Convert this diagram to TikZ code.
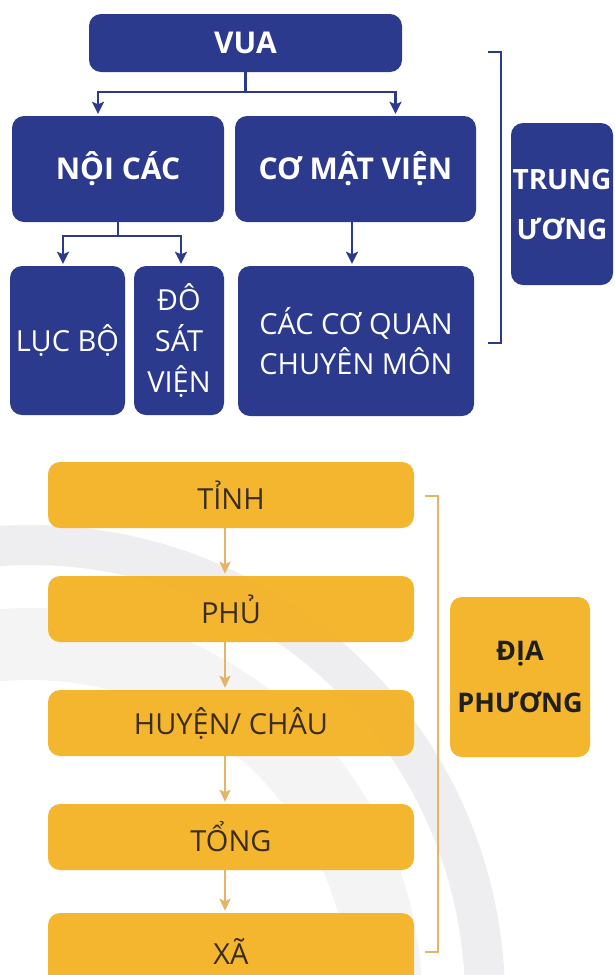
\documentclass[tikz,border=0pt]{standalone}
\usepackage{fontspec}
\setmainfont{Open Sans}
\usetikzlibrary{arrows.meta}
\definecolor{navy}{HTML}{2C3A8E}
\definecolor{gold}{HTML}{F4B223}
\definecolor{tanline}{HTML}{E6B466}
\definecolor{ink}{HTML}{3A2D1C}
\definecolor{ringA}{HTML}{EEEEF0}
\definecolor{ringB}{HTML}{F4F4F5}
\begin{document}
\begin{tikzpicture}[x=1pt,y=-1pt,
  bluebox/.style={fill=navy, rounded corners=12pt, text=white, align=center, inner sep=0pt},
  goldbox/.style={fill=gold, fill opacity=0.94, text opacity=1, rounded corners=12pt, text=ink, align=center, inner sep=0pt},
  bigbold/.style={font=\fontsize{30}{36}\selectfont\bfseries},
  plain/.style={font=\fontsize{29}{40}\selectfont},
  barrow/.style={draw=navy, line width=2.4pt, -{Stealth[length=12pt,width=12pt,inset=2.5pt]}},
  garrow/.style={draw=tanline, line width=2.4pt, -{Stealth[length=12pt,width=11pt,inset=2.5pt]}},
  bbracket/.style={draw=navy, line width=1.8pt},
  gbracket/.style={draw=tanline, line width=1.6pt},
]
\useasboundingbox (0,0) rectangle (614,975);
\begin{scope}
  \clip (0,0) rectangle (614,975);
  \fill[white] (0,0) rectangle (614,975);
  \fill[ringA, even odd rule] (30,1000) circle[radius=475pt] (30,1000) circle[radius=435pt];
  \fill[ringB, even odd rule] (30,1000) circle[radius=392pt] (30,1000) circle[radius=320pt];

  % ---- central level (blue) ----
  \node[bluebox, bigbold, minimum width=313pt, minimum height=58pt] (vua) at (245.5,43) {VUA};
  \node[bluebox, bigbold, minimum width=212pt, minimum height=106pt] (noi) at (118,169) {NỘI CÁC};
  \node[bluebox, bigbold, minimum width=241pt, minimum height=106pt] (cmv) at (355.5,169) {CƠ MẬT VIỆN};
  \node[bluebox, plain, minimum width=115pt, minimum height=149pt] (luc) at (67.5,340.5) {LỤC BỘ};
  \node[bluebox, plain, font=\fontsize{29}{41}\selectfont, minimum width=90pt, minimum height=149pt] (dsv) at (179,340.5) {ĐÔ\\SÁT\\VIỆN};
  \node[bluebox, plain, minimum width=236pt, minimum height=150pt] (cq) at (356,341) {CÁC CƠ QUAN\\CHUYÊN MÔN};
  \node[bluebox, font=\fontsize{28}{50}\selectfont\bfseries, minimum width=102pt, minimum height=162pt] (tw) at (562,204) {TRUNG\\ƯƠNG};

  \draw[barrow] (vua.south) -- (vua.south |- 0,92) -| ([xshift=-20pt,yshift=2pt]noi.north);
  \draw[barrow] (vua.south |- 0,92) -| ([xshift=40pt,yshift=2pt]cmv.north);
  \draw[barrow] (noi.south) -- (noi.south |- 0,236) -| ([xshift=-4.5pt,yshift=2pt]luc.north);
  \draw[barrow] (noi.south |- 0,236) -| ([xshift=2pt,yshift=2pt]dsv.north);
  \draw[barrow] ([xshift=-3.5pt]cmv.south) -- ([xshift=-4pt,yshift=2pt]cq.north);

  \coordinate (bt) at (488,52);
  \coordinate (bb) at (488,343);
  \draw[bbracket] (bt) -- (501,52) -- (501,343) -- (bb);

  % ---- local level (gold) ----
  \node[goldbox, plain, minimum width=366pt, minimum height=66pt] (tinh) at (231,495) {TỈNH};
  \node[goldbox, plain, minimum width=366pt, minimum height=66pt] (phu) at (231,609) {PHỦ};
  \node[goldbox, plain, minimum width=366pt, minimum height=66pt] (huyen) at (231,723) {HUYỆN/ CHÂU};
  \node[goldbox, plain, minimum width=366pt, minimum height=66pt] (tong) at (231,837) {TỔNG};
  \node[goldbox, plain, minimum width=366pt, minimum height=76pt] (xa) at (231,951) {XÃ};
  \node[goldbox, font=\fontsize{27}{52}\selectfont\bfseries, text=black!88, minimum width=140pt, minimum height=160pt] (dp) at (520,677) {ĐỊA\\PHƯƠNG};

  \draw[garrow] ([xshift=-6pt]tinh.south) -- ([xshift=-6pt,yshift=2pt]phu.north);
  \draw[garrow] ([xshift=-6pt]phu.south) -- ([xshift=-6pt,yshift=2pt]huyen.north);
  \draw[garrow] ([xshift=-6pt]huyen.south) -- ([xshift=-6pt,yshift=2pt]tong.north);
  \draw[garrow] ([xshift=-6pt]tong.south) -- ([xshift=-6pt,yshift=2pt]xa.north);

  \coordinate (gt) at (425,496);
  \coordinate (gb) at (425,952);
  \draw[gbracket] (gt) -- (438,496) -- (438,952) -- (gb);
\end{scope}
\end{tikzpicture}
\end{document}
